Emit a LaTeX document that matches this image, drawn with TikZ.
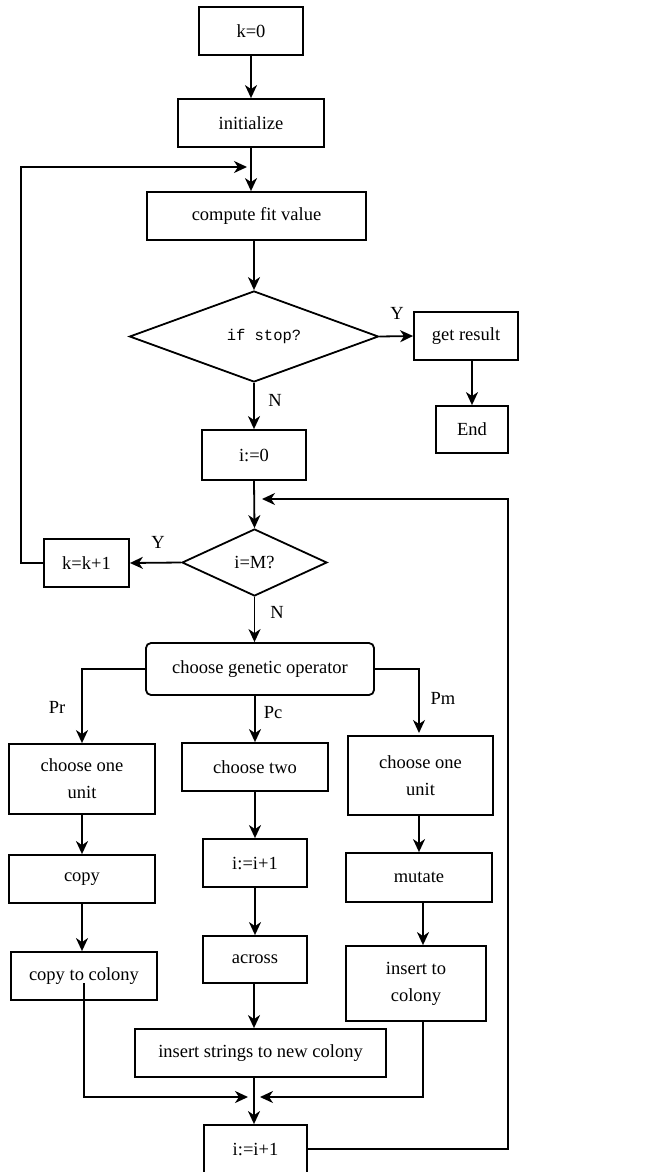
\documentclass[tikz,border=0pt]{standalone}
\usepackage{fontspec}
\setmainfont{Liberation Serif}
\newfontfamily\monofont{Liberation Mono}
\usetikzlibrary{arrows.meta,shapes.geometric,calc}
\begin{document}
\begin{tikzpicture}[x=1pt,y=-1pt,
  every node/.style={font=\fontsize{18.5}{27}\selectfont},
  box/.style={draw,line width=1.8pt,inner sep=0pt,align=center},
  dia/.style={draw,line width=1.8pt,diamond,inner sep=0pt},
  arr/.style={line width=1.8pt,-{Stealth[length=13pt,width=12pt,inset=4pt]}},
  lbl/.style={inner sep=0pt}]
\useasboundingbox (0,0) rectangle (668,1172);
\clip (0,0) rectangle (668,1172);
\fill[white] (0,0) rectangle (668,1172);

% nodes
\node[box,minimum width=104pt,minimum height=48pt] (k0) at (251,31) {k=0};
\node[box,minimum width=146pt,minimum height=48pt] (init) at (251,123) {initialize};
\node[box,minimum width=219pt,minimum height=48pt] (comp) at (256.5,216) {compute fit value};
\node[dia,minimum width=249pt,minimum height=91pt] (stp) at (254,336.5) {};
\node[lbl,font=\monofont\fontsize{15.5}{18}\selectfont] (stptxt) at (264,336.5) {if stop?};
\node[box,minimum width=104pt,minimum height=48pt] (res) at (466,336) {get result};
\node[box,minimum width=72pt,minimum height=47pt] (end) at (472,429.5) {End};
\node[box,minimum width=104pt,minimum height=50pt] (i0) at (254,455) {i:=0};
\node[dia,minimum width=145pt,minimum height=67pt] (M) at (254.5,562.5) {i=M?};
\node[box,minimum width=85pt,minimum height=48pt] (kk) at (86.5,563) {k=k+1};
\node[box,rounded corners=5pt,minimum width=228pt,minimum height=52pt] (gen) at (260,669) {choose genetic operator};
\node[box,minimum width=146pt,minimum height=70pt] (cou1) at (82,779) {choose one\\unit};
\node[box,minimum width=146pt,minimum height=48pt] (two) at (255,767) {choose two};
\node[box,minimum width=145pt,minimum height=79pt] (cou2) at (420.5,775.5) {choose one\\unit};
\node[box,minimum width=146pt,minimum height=48pt] (copy) at (82,879) {copy};
\node[box,minimum width=104pt,minimum height=48pt] (ii1) at (255,863) {i:=i+1};
\node[box,minimum width=146pt,minimum height=49pt] (mut) at (419,877.5) {mutate};
\node[box,minimum width=146pt,minimum height=48pt] (ctc) at (84,976) {copy to colony};
\node[box,minimum width=104pt,minimum height=47pt] (acr) at (255,959.5) {across};
\node[box,minimum width=140pt,minimum height=75pt] (itc) at (416,983.5) {insert to\\colony};
\node[box,minimum width=251pt,minimum height=48pt] (isn) at (260.5,1053) {insert strings to new colony};
\node[box,minimum width=103pt,minimum height=48pt] (ii2) at (255.5,1149) {i:=i+1};

% labels
\node[lbl] (ly1) at (397,313) {Y};
\node[lbl] (ln1) at (275,400) {N};
\node[lbl] (ly2) at (158,542) {Y};
\node[lbl] (ln2) at (277,612) {N};
\node[lbl] (lpr) at (57,707) {Pr};
\node[lbl] (lpc) at (273,713) {Pc};
\node[lbl] (lpm) at (443,698) {Pm};

% coordinates
\coordinate (fbl) at (21,167);
\coordinate (fbe) at (247,167);
\coordinate (lpr) at (508,499);
\coordinate (lpe) at (262,499);
\coordinate (jl) at (248,1097);
\coordinate (jr) at (260,1097);
\coordinate (pmt) at (419,733);

% connectors
\draw[arr] (k0) -- (init);
\draw[arr] (init.south) -- (init.south |- comp.north);
\draw[arr] (stp.north |- comp.south) -- (stp.north);
\draw[arr] (stp.east) -- (res.west);
\draw[arr] (end.north |- res.south) -- (end.north);
\draw[arr] (stp.south) -- (i0.north);
\draw[arr] (i0.south) -- (M.north);
\draw[arr] (M.west) -- (kk.east);
\draw[arr] (kk.west) -| (fbl) -- (fbe);
\draw[arr] (M.south) -- (M.south |- gen.north);
\draw[arr] (gen.west) -| (cou1.north);
\draw[arr] (two.north |- gen.south) -- (two.north);
\draw[arr] (gen.east) -| (pmt);
\draw[arr] (cou1.south -| copy.north) -- (copy.north);
\draw[arr] (copy.south) -- (ctc.north -| copy.south);
\draw[arr] (two.south) -- (ii1.north);
\draw[arr] (ii1.south) -- (acr.north);
\draw[arr] (acr.south -| 254,0) -- (isn.north -| 254,0);
\draw[arr] (cou2.south -| mut.north) -- (mut.north);
\draw[arr] (mut.south -| 423,0) -- (itc.north -| 423,0);
\draw[arr] (isn.south -| 254,0) -- (ii2.north -| 254,0);
\draw[arr] ([yshift=-7pt]ctc.center) -- (ctc.center |- jl) -- (jl);
\draw[arr] (itc.south -| 423,0) -- (423,1097) -- (jr);
\draw[arr] (ii2.east) -- (ii2.east -| lpr) -- (lpr) -- (lpe);
\end{tikzpicture}
\end{document}
